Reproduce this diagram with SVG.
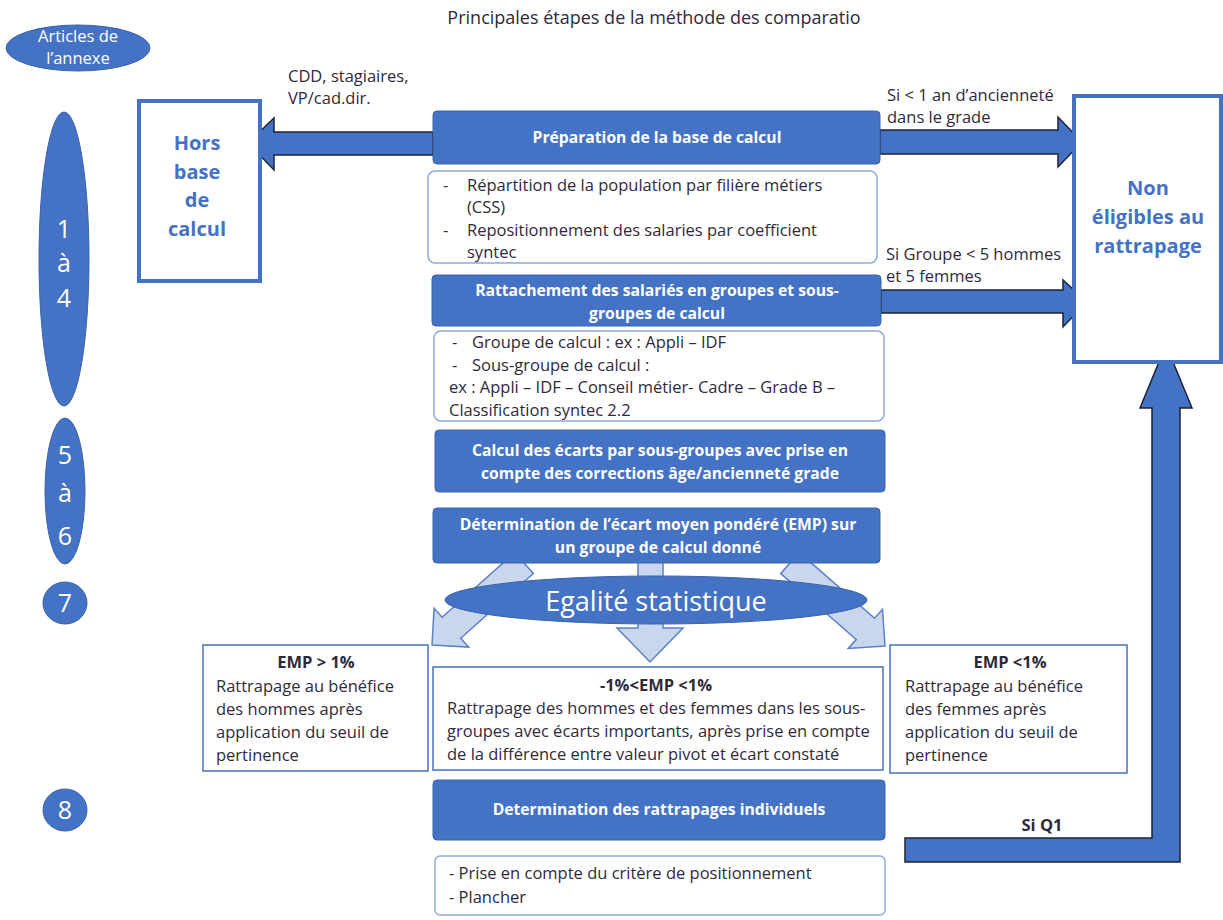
<svg xmlns="http://www.w3.org/2000/svg" width="1223" height="920" viewBox="0 0 1223 920">
<style>
text{font-family:"Open Sans","Liberation Sans",sans-serif;}
.t{font-size:16.5px;fill:#2f2a3a;}
.w{fill:#fff;font-weight:bold;font-size:15.7px;text-anchor:middle;}
.bl{fill:#4472c4;font-weight:bold;font-size:20px;text-anchor:middle;}
.num{fill:#fff;font-size:25px;text-anchor:middle;}
.fill{fill:#4472c4;stroke:#3a62a8;stroke-width:1;}
.sub{fill:#fff;stroke:#8eaadb;stroke-width:1.5;}
.cond{fill:#fff;stroke:#4472c4;stroke-width:1.5;}
.big{fill:#4472c4;stroke:#1c2333;stroke-width:1.5;}
.lt{fill:#c9d7ee;stroke:#5b80c4;stroke-width:1.5;}
.b{font-weight:bold;}
</style>
<rect width="1223" height="920" fill="#fff"/>
<text x="654" y="24" class="t" text-anchor="middle" font-size="18" style="font-size:18px">Principales étapes de la méthode des comparatio</text>

<g id="connectors">
<polygon class="big" points="433,132 274,132 274,118 248,143 274,170 274,155 433,155"/>
<polygon class="big" points="880,130 1058,130 1058,117 1082,142 1058,167 1058,154 880,154"/>
<polygon class="big" points="881,290 1063,290 1063,280 1087,302 1063,327 1063,313 881,313"/>
<polygon class="big" points="905,838 1152,838 1152,408 1140,408 1166,345 1192,408 1180,408 1180,862 905,862"/>
<polygon class="lt" points="514.7,552.5 533.3,573.5 460.7,638.2 468.7,647.1 432,645 434.1,608.3 442.1,617.2"/>
<polygon class="lt" points="638,560 663,560 663,628 683,628 650,662 617,628 638,628"/>
<polygon class="lt" points="780.8,573.6 799.2,552.4 874.6,618.3 882.5,609.3 885,646 848.3,648.5 856.2,639.5"/>
</g>

<g id="articles">
<ellipse cx="78" cy="48" rx="72" ry="23" class="fill"/>
<text x="78" y="42" class="t" style="fill:#fff" text-anchor="middle">Articles de</text>
<text x="78" y="64" class="t" style="fill:#fff" text-anchor="middle">l’annexe</text>
</g>

<g id="num14">
<ellipse cx="64" cy="259" rx="25" ry="147" class="fill"/>
<text x="64" y="238" class="num">1</text>
<text x="64" y="272" class="num">à</text>
<text x="64" y="307" class="num">4</text>
</g>
<g id="num56">
<ellipse cx="65" cy="491" rx="20" ry="73" class="fill"/>
<text x="65" y="464" class="num">5</text>
<text x="65" y="502" class="num">à</text>
<text x="65" y="545" class="num">6</text>
</g>
<g id="num7">
<ellipse cx="65" cy="603" rx="22" ry="21" class="fill"/>
<text x="65" y="612" class="num">7</text>
</g>
<g id="num8">
<ellipse cx="65" cy="810" rx="22" ry="21" class="fill"/>
<text x="65" y="819" class="num">8</text>
</g>

<g id="lbl-cdd">
<text x="288" y="82" class="t">CDD, stagiaires,</text>
<text x="288" y="104" class="t">VP/cad.dir.</text>
</g>
<g id="hors">
<rect x="139" y="101" width="121" height="180" fill="#fff" stroke="#4472c4" stroke-width="4"/>
<text x="197" y="150" class="bl">Hors</text>
<text x="197" y="179" class="bl">base</text>
<text x="197" y="207" class="bl">de</text>
<text x="197" y="236" class="bl">calcul</text>
</g>

<g id="lbl-si1">
<text x="887" y="101" class="t">Si &lt; 1 an d’ancienneté</text>
<text x="887" y="123" class="t">dans le grade</text>
</g>
<g id="lbl-si2">
<text x="886" y="260" class="t">Si Groupe &lt; 5 hommes</text>
<text x="886" y="282" class="t">et 5 femmes</text>
</g>
<g id="non">
<rect x="1074" y="96" width="147" height="266" fill="#fff" stroke="#4472c4" stroke-width="4"/>
<text x="1148" y="195" class="bl">Non</text>
<text x="1148" y="224" class="bl">éligibles au</text>
<text x="1148" y="253" class="bl">rattrapage</text>
</g>

<g id="prep">
<rect x="433" y="111" width="447" height="53" rx="4" class="fill"/>
<text x="657" y="143" class="w">Préparation de la base de calcul</text>
</g>
<g id="prep-sub">
<rect x="428" y="171" width="449" height="92" rx="7" class="sub"/>
<text x="443" y="191" class="t">-</text><text x="467" y="191" class="t">Répartition de la population par filière métiers</text>
<text x="467" y="213" class="t">(CSS)</text>
<text x="443" y="236" class="t">-</text><text x="467" y="236" class="t">Repositionnement des salaries par coefficient</text>
<text x="467" y="258" class="t">syntec</text>
</g>

<g id="ratt">
<rect x="432" y="275" width="449" height="51" rx="4" class="fill"/>
<text x="657" y="296" class="w">Rattachement des salariés en groupes et sous-</text>
<text x="657" y="319" class="w">groupes de calcul</text>
</g>
<g id="ratt-sub">
<rect x="434" y="331" width="450" height="90" rx="7" class="sub"/>
<text x="452" y="348" class="t">-</text><text x="472" y="348" class="t">Groupe de calcul : ex : Appli – IDF</text>
<text x="452" y="371" class="t">-</text><text x="472" y="371" class="t">Sous-groupe de calcul :</text>
<text x="449" y="393" class="t">ex : Appli – IDF – Conseil métier- Cadre – Grade B –</text>
<text x="449" y="416" class="t">Classification syntec 2.2</text>
</g>

<g id="ecarts">
<rect x="435" y="430" width="450" height="62" rx="4" class="fill"/>
<text x="660" y="456" class="w">Calcul des écarts par sous-groupes avec prise en</text>
<text x="660" y="479" class="w">compte des corrections âge/ancienneté grade</text>
</g>

<g id="emp">
<rect x="433" y="508" width="447" height="55" rx="4" class="fill"/>
<text x="658" y="530" class="w">Détermination  de l’écart moyen pondéré (EMP) sur</text>
<text x="658" y="553" class="w">un groupe de calcul donné</text>
</g>

<g id="egalite">
<ellipse cx="656" cy="600" rx="211" ry="24" class="fill"/>
<text x="656" y="611" fill="#fff" font-size="27" text-anchor="middle">Egalité statistique</text>
</g>

<g id="emp-gt">
<rect x="203" y="645" width="225" height="126" class="cond"/>
<text x="316" y="668" class="t b" text-anchor="middle">EMP &gt; 1%</text>
<text x="216" y="692" class="t">Rattrapage au bénéfice</text>
<text x="216" y="715" class="t">des hommes après</text>
<text x="216" y="738" class="t">application du seuil de</text>
<text x="216" y="761" class="t">pertinence</text>
</g>
<g id="emp-mid">
<rect x="433" y="667" width="450" height="103" class="cond"/>
<text x="656" y="691" class="t b" text-anchor="middle">-1%&lt;EMP &lt;1%</text>
<text x="447" y="714" class="t">Rattrapage des hommes et des femmes dans les sous-</text>
<text x="447" y="737" class="t">groupes avec écarts importants, après prise en compte</text>
<text x="447" y="760" class="t">de la différence entre valeur pivot et écart constaté</text>
</g>
<g id="emp-lt">
<rect x="890" y="645" width="237" height="128" class="cond"/>
<text x="1010" y="668" class="t b" text-anchor="middle">EMP &lt;1%</text>
<text x="905" y="692" class="t">Rattrapage au bénéfice</text>
<text x="905" y="715" class="t">des femmes après</text>
<text x="905" y="738" class="t">application du seuil de</text>
<text x="905" y="761" class="t">pertinence</text>
</g>

<g id="indiv">
<rect x="433" y="780" width="452" height="60" rx="4" class="fill"/>
<text x="659" y="815" class="w">Determination des rattrapages individuels</text>
</g>
<g id="indiv-sub">
<rect x="435" y="856" width="450" height="59" rx="5" class="sub"/>
<text x="449" y="879" class="t">- Prise en compte du critère de positionnement</text>
<text x="449" y="903" class="t">- Plancher</text>
</g>

<g id="lbl-q1">
<text x="1042" y="831" class="t b" text-anchor="middle">Si Q1</text>
</g>
</svg>
